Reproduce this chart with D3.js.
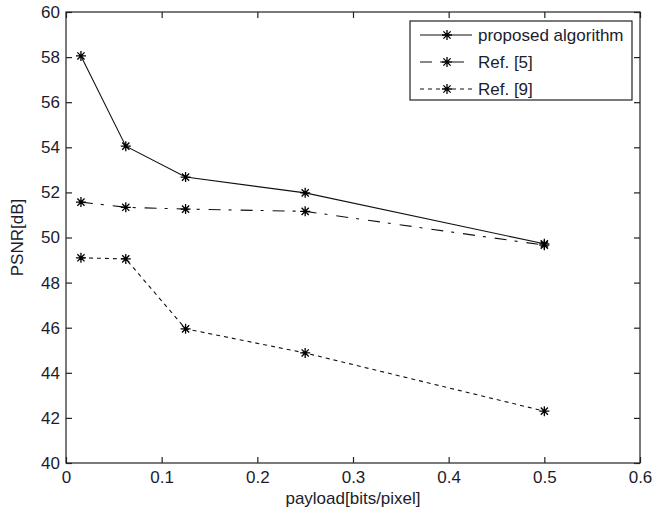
<!DOCTYPE html>
<html><head><meta charset="utf-8">
<script src="https://cdn.jsdelivr.net/npm/d3@7"></script>
<style>body{margin:0;background:#fff}svg{display:block}text{font-family:Arial,"Liberation Sans",sans-serif}</style>
</head><body>
<script>
const payloads = [0.015625, 0.0625, 0.125, 0.25, 0.5];
const proposed = [58.05, 54.05, 52.68, 51.98, 49.72];
const ref5 = [51.57, 51.34, 51.26, 51.16, 49.66];
const ref9 = [49.1, 49.05, 45.95, 44.88, 42.3];
const seriesNames = ["proposed algorithm", "Ref. [5]", "Ref. [9]"];
const xTicks = [0, 0.1, 0.2, 0.3, 0.4, 0.5, 0.6];
const yTicks = [40, 42, 44, 46, 48, 50, 52, 54, 56, 58, 60];

const W = 664, H = 514;
const m = {l: 66, r: 24, t: 12, b: 51};
const FS = 17;
const svg = d3.select("body").append("svg").attr("width", W).attr("height", H);
const x = d3.scaleLinear().domain([0, 0.6]).range([m.l, W - m.r]);
const y = d3.scaleLinear().domain([40, 60]).range([H - m.b, m.t]);
const textCol = "#1c1c2c";

svg.append("rect").attr("x", m.l).attr("y", m.t).attr("width", W - m.r - m.l).attr("height", H - m.b - m.t)
  .attr("fill", "#fff").attr("stroke", "#222").attr("stroke-width", 1.2);

const tl = 6;
const g = svg.append("g");
const xb = d3.axisBottom(x).tickValues(xTicks).tickSize(-tl).tickPadding(8).tickFormat(d => d === 0 ? "0" : d3.format(".1f")(d));
const ga = g.append("g").attr("transform", `translate(0,${H - m.b})`).call(xb);
const xt = d3.axisTop(x).tickValues(xTicks).tickSize(-tl).tickFormat("");
const gt = g.append("g").attr("transform", `translate(0,${m.t})`).call(xt);
const yl = d3.axisLeft(y).tickValues(yTicks).tickSize(-tl).tickPadding(6);
const gl = g.append("g").attr("transform", `translate(${m.l},0)`).call(yl);
const yr = d3.axisRight(y).tickValues(yTicks).tickSize(-tl).tickFormat("");
const gr = g.append("g").attr("transform", `translate(${W - m.r},0)`).call(yr);
[ga, gt, gl, gr].forEach(a => {
  a.select(".domain").remove();
  a.selectAll(".tick line").attr("stroke", "#222").attr("stroke-width", 1.2);
  a.selectAll("text").attr("font-size", FS).attr("fill", textCol).style("font-family", "Arial, 'Liberation Sans', sans-serif");
});

svg.append("text").attr("x", (m.l + W - m.r) / 2).attr("y", 504).attr("text-anchor", "middle")
  .attr("font-size", FS).attr("fill", textCol).text("payload[bits/pixel]");
svg.append("text").attr("transform", `translate(23,${(m.t + H - m.b) / 2}) rotate(-90)`).attr("text-anchor", "middle")
  .attr("font-size", FS).attr("fill", textCol).text("PSNR[dB]");

const series = [
  {name: seriesNames[0], vals: proposed, dash: null},
  {name: seriesNames[1], vals: ref5, dash: "12,8,3,9"},
  {name: seriesNames[2], vals: ref9, dash: "4,4"}
];
const line = d3.line().x(d => x(d[0])).y(d => y(d[1]));
function star(sel, cx, cy) {
  const s = 5, d = 3.6;
  const p = `M${cx - s},${cy}L${cx + s},${cy}M${cx},${cy - s}L${cx},${cy + s}M${cx - d},${cy - d}L${cx + d},${cy + d}M${cx - d},${cy + d}L${cx + d},${cy - d}`;
  sel.append("path").attr("d", p).attr("stroke", "#000").attr("stroke-width", 1.3).attr("fill", "none");
}
series.forEach(s => {
  const pts = payloads.map((p, i) => [p, s.vals[i]]);
  svg.append("path").datum(pts).attr("d", line).attr("fill", "none").attr("stroke", "#111")
    .attr("stroke-width", 1.1).attr("stroke-dasharray", s.dash);
  pts.forEach(p => star(svg, x(p[0]), y(p[1])));
});

// legend
const lg = svg.append("g");
lg.append("rect").attr("x", 410).attr("y", 21).attr("width", 222).attr("height", 79)
  .attr("fill", "#fff").attr("stroke", "#222").attr("stroke-width", 1.2);
series.forEach((s, i) => {
  const ly = 35 + i * 27;
  lg.append("line").attr("x1", 420).attr("x2", 472).attr("y1", ly).attr("y2", ly)
    .attr("stroke", "#111").attr("stroke-width", 1.1).attr("stroke-dasharray", s.dash);
  star(lg, 447, ly);
  lg.append("text").attr("x", 478).attr("y", ly + 6).attr("font-size", FS).attr("fill", textCol).text(s.name);
});
</script>
</body></html>
